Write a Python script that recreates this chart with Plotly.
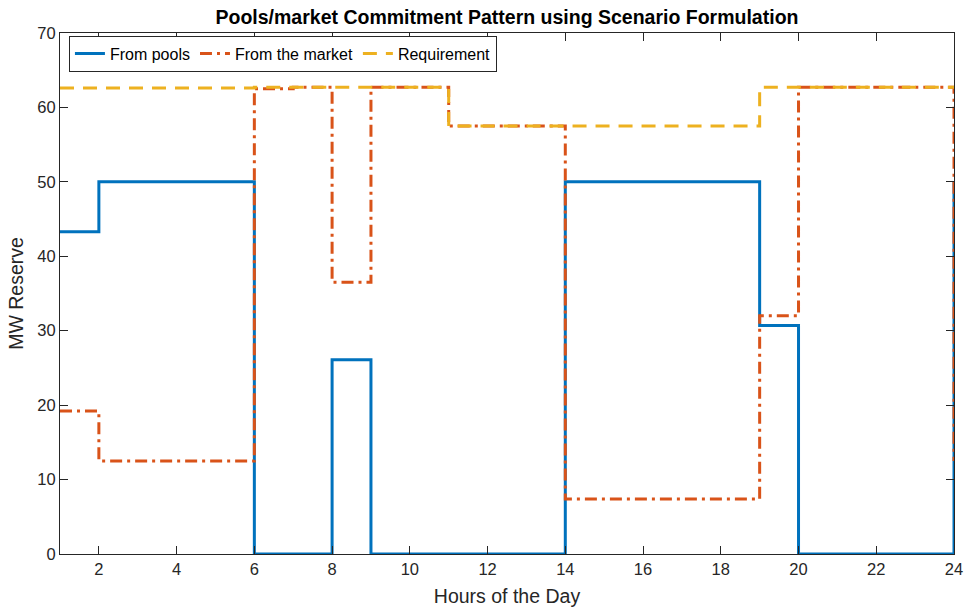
import plotly.graph_objects as go

hours = list(range(1, 25))
from_pools = [43.3, 50, 50, 50, 50, 0, 0, 26.1, 0, 0, 0, 0, 0,
              50, 50, 50, 50, 50, 30.7, 0, 0, 0, 0, 50]
from_market = [19.2, 12.5, 12.5, 12.5, 12.5, 62.5, 62.7, 36.5, 62.7, 62.7,
               57.5, 57.5, 57.5, 7.4, 7.4, 7.4, 7.4, 7.4, 32.0,
               62.7, 62.7, 62.7, 62.7, 12.5]
requirement = [62.6, 62.6, 62.6, 62.6, 62.6, 62.7, 62.7, 62.7, 62.7, 62.7,
               57.5, 57.5, 57.5, 57.5, 57.5, 57.5, 57.5, 57.5,
               62.7, 62.7, 62.7, 62.7, 62.7, 62.5]
x_ticks = list(range(2, 25, 2))
y_ticks = list(range(0, 71, 10))

fig = go.Figure()
fig.add_trace(go.Scatter(x=hours, y=from_pools, mode="lines", name="From pools",
                         line=dict(color="#0072BD", width=3, shape="hv")))
fig.add_trace(go.Scatter(x=hours, y=from_market, mode="lines", name="From the market",
                         line=dict(color="#D95319", width=3, shape="hv",
                                   dash="12px,5px,3px,5px")))
fig.add_trace(go.Scatter(x=hours, y=requirement, mode="lines", name="Requirement",
                         line=dict(color="#EDB120", width=3, shape="hv", dash="14px,9px")))

axis_common = dict(showgrid=False, zeroline=False, showline=True, linecolor="#262626",
                   linewidth=1, mirror="ticks", ticks="inside", ticklen=8,
                   tickcolor="#262626", tickfont=dict(size=16.5, color="#262626"),
                   automargin=False)
fig.update_xaxes(range=[1, 24], tickvals=x_ticks,
                 title=dict(text="Hours of the Day", font=dict(size=19.5, color="#262626"), standoff=12),
                 **axis_common)
fig.update_yaxes(range=[0, 70], tickvals=y_ticks,
                 title=dict(text="MW Reserve", font=dict(size=19.5, color="#262626"), standoff=8),
                 **axis_common)

fig.update_layout(
    width=967, height=614,
    margin=dict(l=60, r=13, t=33, b=60),
    paper_bgcolor="white", plot_bgcolor="white",
    font=dict(family="Liberation Sans, Arial, sans-serif", color="#262626"),
    title=dict(text="<b>Pools/market Commitment Pattern using Scenario Formulation</b>",
               x=0.5243, xanchor="center", y=0.972, yanchor="middle",
               font=dict(size=19.5, color="black")),
    legend=dict(orientation="h", x=0.01, y=0.995, xanchor="left", yanchor="top",
                bgcolor="white", bordercolor="#262626", borderwidth=1,
                font=dict(size=16, color="black"), itemwidth=30,
                tracegroupgap=0),
    showlegend=True,
)

fig.write_html("out.html")
